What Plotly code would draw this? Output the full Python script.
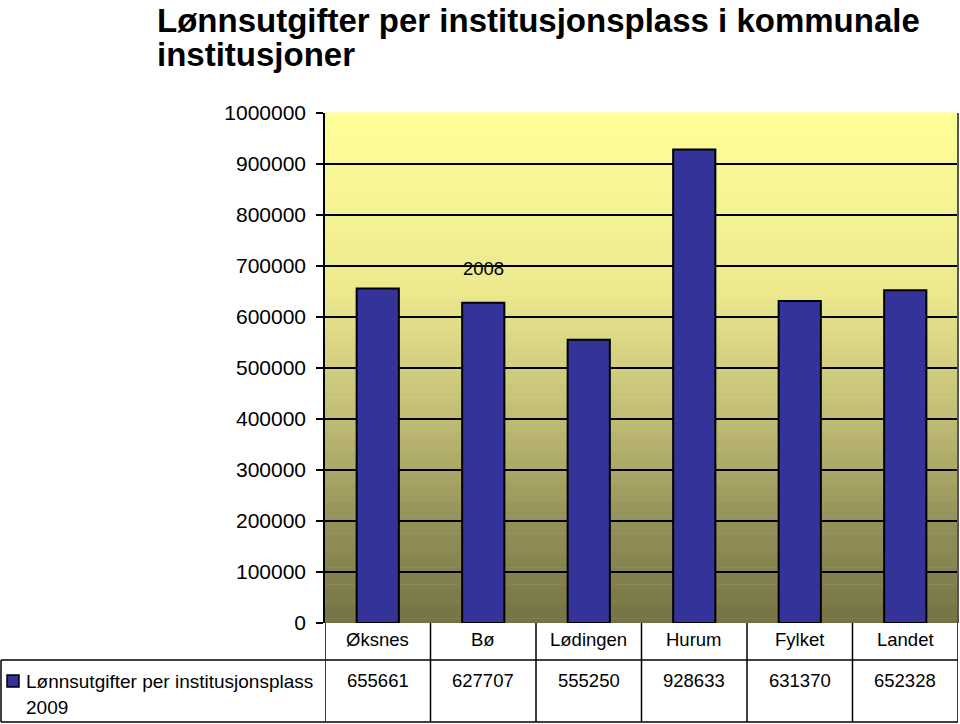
import plotly.graph_objects as go

categories = ["Øksnes", "Bø", "Lødingen", "Hurum", "Fylket", "Landet"]
values_2009 = [655661, 627707, 555250, 928633, 631370, 652328]
series_name = "Lønnsutgifter per institusjonsplass"
series_year = "2009"
label_2008 = "2008"
title_lines = ["Lønnsutgifter per institusjonsplass i kommunale", "institusjoner"]

W, H = 960, 724
ML, MR, MT, MB = 325, 2, 113, 101
PW = W - ML - MR
PH = H - MT - MB

def px_x(p):
    return (p - ML) / PW

def px_y(p):
    return (H - MB - p) / PH

FONT = "Liberation Sans, Arial, sans-serif"

fig = go.Figure()
fig.add_trace(go.Bar(
    x=list(range(len(categories))), y=values_2009,
    width=0.4,
    marker=dict(color="#333399", line=dict(color="black", width=2)),
    name=series_name + " " + series_year,
    showlegend=False,
))

shapes = []
# gradient background
stops = [(0.0, (255, 255, 153)), (0.35, (236, 233, 142)), (0.6, (192, 188, 116)),
         (0.8, (148, 145, 90)), (1.0, (117, 115, 68))]
def col(t):
    for i in range(len(stops) - 1):
        a, ca = stops[i]
        b, cb = stops[i + 1]
        if a <= t <= b:
            f = (t - a) / (b - a)
            return "rgb(%d,%d,%d)" % tuple(round(ca[k] + (cb[k] - ca[k]) * f) for k in range(3))
    return "rgb(117,115,68)"
N = 120
for i in range(N):
    t = i / N
    shapes.append(dict(type="rect", xref="paper", yref="paper",
                       x0=0, x1=1, y0=1 - (i + 1) / N, y1=1 - i / N + 0.001,
                       fillcolor=col(t + 0.5 / N), line=dict(width=0), layer="below"))
# right border of plot
shapes.append(dict(type="line", xref="paper", yref="paper", x0=1, x1=1, y0=0, y1=1,
                   line=dict(color="#555555", width=2), layer="above"))
# table lines
n = len(categories)
y_cat_bot = px_y(660)
y_tab_bot = px_y(722)
for i in range(n + 1):
    xb = i - 0.5
    shapes.append(dict(type="line", xref="x", yref="paper", x0=xb, x1=xb, y0=0, y1=y_tab_bot,
                       line=dict(color="black", width=1.5)))
shapes.append(dict(type="line", xref="paper", yref="paper", x0=px_x(1), x1=1, y0=y_cat_bot, y1=y_cat_bot,
                   line=dict(color="black", width=1.5)))
shapes.append(dict(type="line", xref="paper", yref="paper", x0=px_x(1), x1=1, y0=y_tab_bot, y1=y_tab_bot,
                   line=dict(color="black", width=1.5)))
shapes.append(dict(type="line", xref="paper", yref="paper", x0=px_x(1), x1=px_x(1), y0=y_cat_bot, y1=y_tab_bot,
                   line=dict(color="black", width=1.5)))
# legend key
shapes.append(dict(type="rect", xref="paper", yref="paper", x0=px_x(7), x1=px_x(19),
                   y0=px_y(687), y1=px_y(675), fillcolor="#333399", line=dict(color="black", width=1.5)))

annotations = []
for i, (c, v) in enumerate(zip(categories, values_2009)):
    annotations.append(dict(x=i, xref="x", y=px_y(639), yref="paper", text=c, showarrow=False,
                            xanchor="center", yanchor="middle", font=dict(size=18.5, color="black", family=FONT)))
    annotations.append(dict(x=i, xref="x", y=px_y(680), yref="paper", text=str(v), showarrow=False,
                            xanchor="center", yanchor="middle", font=dict(size=18.5, color="black", family=FONT)))
annotations.append(dict(x=px_x(24), xref="paper", y=px_y(681), yref="paper", text=series_name, showarrow=False,
                        xanchor="left", yanchor="middle", font=dict(size=19, color="black", family=FONT)))
annotations.append(dict(x=px_x(24), xref="paper", y=px_y(707), yref="paper", text=series_year, showarrow=False,
                        xanchor="left", yanchor="middle", font=dict(size=19, color="black", family=FONT)))
annotations.append(dict(x=1, xref="x", y=695000, yref="y", text=label_2008, showarrow=False,
                        xanchor="center", yanchor="middle", font=dict(size=18.5, color="black", family=FONT)))
for k, (line, top) in enumerate(zip(title_lines, [0, 34])):
    annotations.append(dict(x=px_x(155), xref="paper", y=px_y(top), yref="paper", text="<b>" + line + "</b>",
                            showarrow=False, xanchor="left", yanchor="top", align="left",
                            font=dict(size=33, color="black", family=FONT)))

fig.update_layout(
    width=W, height=H,
    margin=dict(l=ML, r=MR, t=MT, b=MB),
    paper_bgcolor="white", plot_bgcolor="rgba(0,0,0,0)",
    shapes=shapes, annotations=annotations,
    bargap=0.6,
    xaxis=dict(range=[-0.5, n - 0.5], showticklabels=False, showgrid=False, zeroline=False,
               showline=False, ticks=""),
    yaxis=dict(range=[0, 1000000], dtick=100000, tickformat="d", showgrid=True, gridcolor="black",
               gridwidth=1.5, zeroline=False, showline=True, linecolor="black", linewidth=1.5,
               ticks="outside", ticklen=7, tickwidth=1.5, tickcolor="black",
               tickfont=dict(size=21, color="black", family=FONT), ticklabelstandoff=6),
    showlegend=False,
)

fig.write_html("out.html")
